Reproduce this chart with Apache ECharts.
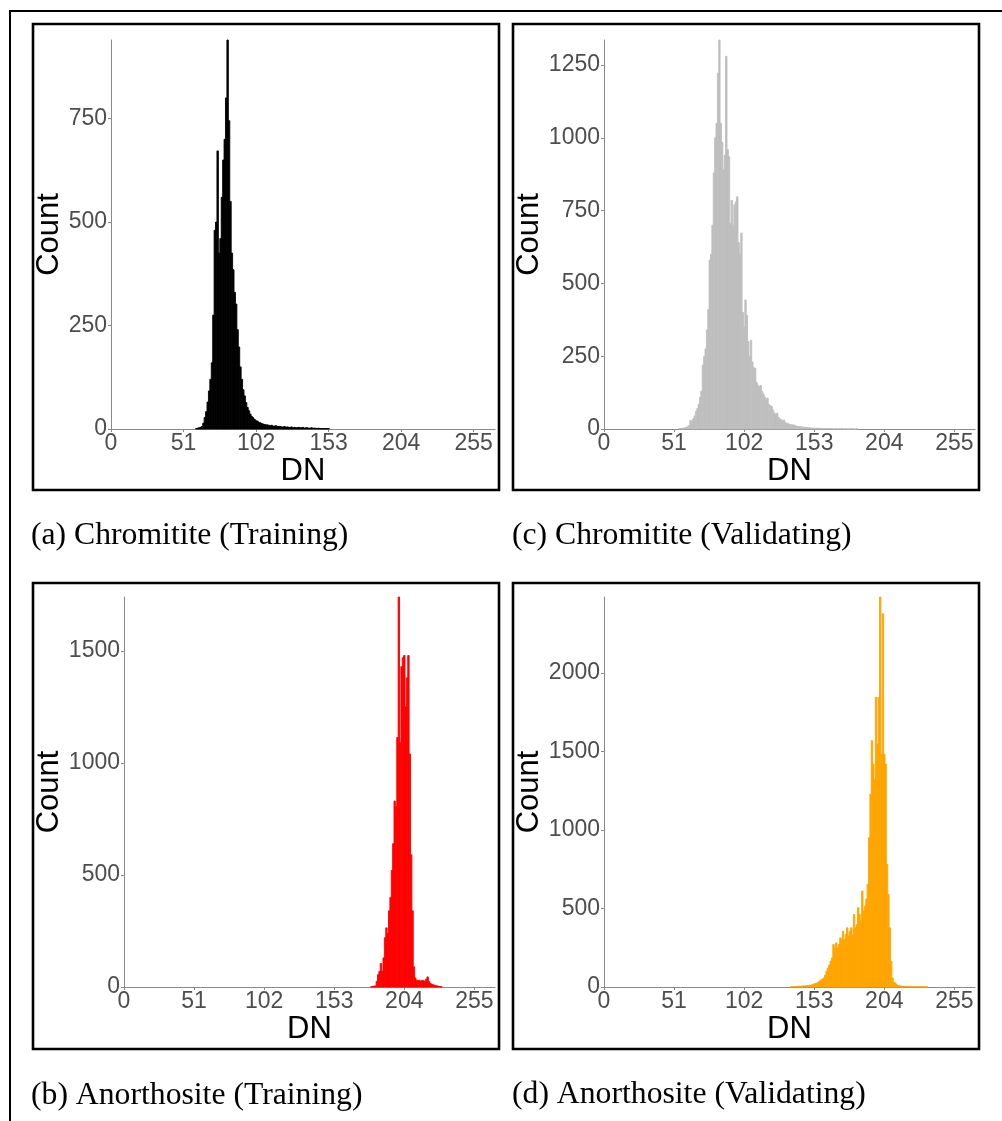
<!DOCTYPE html>
<html><head><meta charset="utf-8">
<script src="https://cdn.jsdelivr.net/npm/echarts@6/dist/echarts.min.js"></script>
<style>html,body{margin:0;padding:0;background:#fff}#chart{width:1002px;height:1121px}</style>
</head><body><div id="chart"></div>
<script>
// ---- data ----
const xTicks = [0, 51, 102, 153, 204, 255];
const xMax = 270;

// (a) Chromitite (Training): counts per DN starting at chromTrainStart
const chromTrainStart = 60;
const chromTrainCounts = [
  1,2,3,4,6,14,28,42,65,92,
  120,160,275,480,500,672,425,460,560,650,
  700,800,940,745,550,425,385,330,302,240,
  198,150,120,95,80,64,52,44,36,30,
  27,23,20,19,16,15,13,12,11,10,
  10,9,8,9,7,7,8,6,6,6,
  5,5,6,4,5,4,4,5,3,4,
  3,3,4,3,3,4,2,3,3,2,
  2,3,2,2,2,1,2,1,1,1,
  1,1,1,1
];
const chromTrainYTicks = [0, 250, 500, 750];

// (c) Chromitite (Validating)
const chromValStart = 55;
const chromValCounts = [
  1,2,2,3,4,6,8,12,30,25,
  35,45,60,70,85,110,130,220,250,275,
  340,410,580,600,700,880,1000,1050,1222,1336,
  1050,985,890,940,1280,960,935,705,785,700,
  770,780,798,640,600,673,400,350,443,390,
  300,250,305,230,210,209,160,150,145,150,
  130,120,110,100,106,85,80,77,65,55,
  50,54,40,35,32,28,31,22,20,18,
  16,15,14,14,12,10,9,8,8,7,
  6,6,5,5,4,4,3,3,3,2,
  3,2,2,2,1,2,1,1,2,1,
  1,1,0,1,1,0,1,0,1,1,
  0,1,0,0,1,0,1,0,0,1
];
const chromValYTicks = [0, 250, 500, 750, 1000, 1250];

// (b) Anorthosite (Training)
const anorTrainStart = 180;
const anorTrainCounts = [
  1,2,4,5,25,55,70,105,70,130,
  220,264,240,340,400,520,640,830,805,1114,
  1741,1090,1430,1470,1480,1250,1380,1480,1040,590,
  340,90,40,30,28,30,25,30,28,25,
  35,45,25,17,12,10,8,6,5,3,
  2,1
];
const anorTrainYTicks = [0, 500, 1000, 1500];

// (d) Anorthosite (Validating)
const anorValStart = 136;
const anorValCounts = [
  1,2,2,3,3,4,5,5,6,7,
  7,8,9,10,11,13,16,20,22,25,
  30,38,45,50,57,75,100,120,140,164,
  185,270,249,281,250,270,313,302,355,300,
  334,377,324,355,377,330,462,377,398,505,
  462,420,611,483,515,560,653,951,1228,1569,
  1420,1320,1845,1547,1845,2484,1483,2377,1483,1420,
  781,589,377,164,57,30,25,15,10,8,
  6,5,4,4,3,3,3,2,2,2,
  2,1,1,2,1,1,1,1,1,1
];
const anorValYTicks = [0, 500, 1000, 1500, 2000];

const captions = [
  '(a) Chromitite (Training)',
  '(c) Chromitite (Validating)',
  '(b) Anorthosite (Training)',
  '(d) Anorthosite (Validating)'
];
const xName = 'DN';
const yName = 'Count';

// ---- layout / style ----
const panels = [
  { start: chromTrainStart, counts: chromTrainCounts, yTicks: chromTrainYTicks, color: '#000000',
    grid: { left: 111, top: 40, width: 384, height: 389 }, nameGap: 44,
    frame: [33, 24, 466, 466], cap: [31, 536] },
  { start: chromValStart, counts: chromValCounts, yTicks: chromValYTicks, color: '#bebebe',
    grid: { left: 604, top: 40, width: 371, height: 389 }, nameGap: 57,
    frame: [513, 24, 466, 466], cap: [512, 536] },
  { start: anorTrainStart, counts: anorTrainCounts, yTicks: anorTrainYTicks, color: '#ff0000',
    grid: { left: 124, top: 597, width: 371, height: 390 }, nameGap: 57,
    frame: [33, 583, 466, 466], cap: [31, 1096] },
  { start: anorValStart, counts: anorValCounts, yTicks: anorValYTicks, color: '#ffa500',
    grid: { left: 604, top: 597, width: 371, height: 390 }, nameGap: 57,
    frame: [513, 583, 466, 466], cap: [512, 1095] }
];

const sans = 'Liberation Sans, Arial, sans-serif';
const serif = 'Liberation Serif, Times New Roman, serif';
const axisGray = '#8a8a8a';
const labelGray = '#4d4d4d';
const plain = v => String(v);

const grids = [], xAxes = [], yAxes = [], series = [], graphics = [];

panels.forEach((p, i) => {
  grids.push(Object.assign({ containLabel: false }, p.grid));
  xAxes.push({
    type: 'value', gridIndex: i, min: 0, max: xMax, interval: 51,
    name: xName, nameLocation: 'middle', nameGap: 24,
    nameTextStyle: { fontSize: 31, color: '#000', fontFamily: sans },
    axisLine: { show: true, onZero: false, lineStyle: { color: axisGray, width: 1 } },
    axisTick: { show: true, length: 3, lineStyle: { color: axisGray }, customValues: xTicks },
    axisLabel: { fontSize: 23, color: labelGray, fontFamily: sans, margin: 3,
                 customValues: xTicks, formatter: plain },
    splitLine: { show: false }
  });
  const yMax = Math.max.apply(null, p.counts);
  yAxes.push({
    type: 'value', gridIndex: i, min: 0, max: yMax,
    name: yName, nameLocation: 'middle', nameGap: p.nameGap,
    nameTextStyle: { fontSize: 31, color: '#000', fontFamily: sans },
    axisLine: { show: true, onZero: false, lineStyle: { color: axisGray, width: 1 } },
    axisTick: { show: true, length: 3, lineStyle: { color: axisGray }, customValues: p.yTicks },
    axisLabel: { fontSize: 23, color: labelGray, fontFamily: sans, margin: 4,
                 customValues: p.yTicks, formatter: plain },
    splitLine: { show: false }
  });
  const color = p.color;
  series.push({
    type: 'custom', xAxisIndex: i, yAxisIndex: i,
    data: p.counts.map((c, k) => [p.start + k, c]),
    encode: { x: 0, y: 1 },
    renderItem: function (params, api) {
      const x = api.value(0), y = api.value(1);
      const p0 = api.coord([x - 0.5, 0]);
      const p1 = api.coord([x + 0.5, y]);
      return {
        type: 'rect',
        shape: { x: p0[0], y: p1[1], width: p1[0] - p0[0], height: p0[1] - p1[1] },
        style: { fill: color, stroke: color, lineWidth: 0.9 }
      };
    },
    silent: true, animation: false
  });
  graphics.push({
    type: 'rect', silent: true,
    shape: { x: p.frame[0], y: p.frame[1], width: p.frame[2], height: p.frame[3] },
    style: { fill: null, stroke: '#000', lineWidth: 2.6 }
  });
  graphics.push({
    type: 'text', silent: true,
    style: { x: p.cap[0], y: p.cap[1], text: captions[i], font: '31.7px ' + serif,
             fill: '#000', textAlign: 'left', textVerticalAlign: 'middle' }
  });
});

// outer frame (top and left rules)
graphics.push({ type: 'line', silent: true, shape: { x1: 10, y1: 11, x2: 1002, y2: 11 },
  style: { stroke: '#000', lineWidth: 2 } });
graphics.push({ type: 'line', silent: true, shape: { x1: 10, y1: 10, x2: 10, y2: 1121 },
  style: { stroke: '#000', lineWidth: 2 } });

const chart = echarts.init(document.getElementById('chart'), null, { renderer: 'canvas' });
chart.setOption({
  backgroundColor: '#ffffff',
  animation: false,
  grid: grids, xAxis: xAxes, yAxis: yAxes, series: series,
  graphic: graphics
});
</script>
</body></html>
